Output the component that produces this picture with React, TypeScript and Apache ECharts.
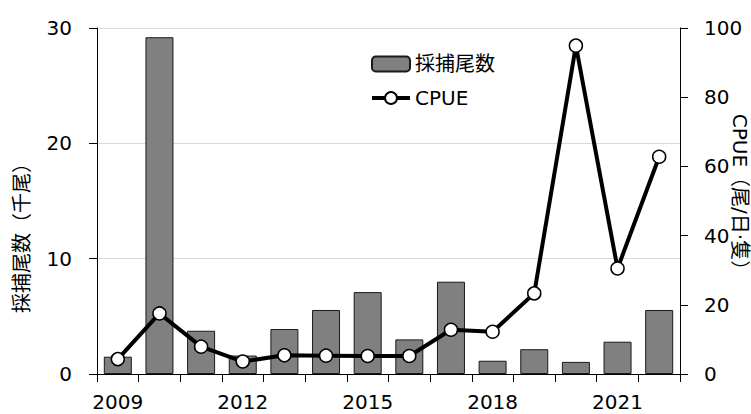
import React, { useEffect, useRef } from "react";
import * as echarts from "echarts";

const years = ["2009","2010","2011","2012","2013","2014","2015","2016","2017","2018","2019","2020","2021","2022"];
const catchCount = [1.5, 29.2, 3.75, 1.6, 3.9, 5.55, 7.1, 3.0, 8.0, 1.15, 2.15, 1.05, 2.8, 5.55];
const cpue = [4.3, 17.5, 7.9, 3.6, 5.4, 5.3, 5.2, 5.2, 12.8, 12.2, 23.3, 94.9, 30.5, 62.8];
const leftTicks = { min: 0, max: 30, interval: 10 };
const rightTicks = { min: 0, max: 100, interval: 20 };
const barName = "採捕尾数";
const lineName = "CPUE";
const leftTitle = "採捕尾数（千尾）";
const rightTitle = "CPUE（尾/日·隻）";

const FONT = '"DejaVu Sans", "Noto Sans CJK JP", sans-serif';

export default function App() {
  const ref = useRef<HTMLDivElement>(null);
  useEffect(() => {
    document.body.style.margin = "0";
    const chart = echarts.init(ref.current!, null, { renderer: "svg" });
    chart.setOption({
      animation: false,
      textStyle: { fontFamily: FONT },
      grid: { left: 97, right: 71, top: 28, bottom: 40, containLabel: false },
      legend: {
        orient: "vertical",
        left: 370,
        top: 54,
        itemWidth: 38,
        itemHeight: 15,
        itemGap: 14,
        padding: 0,
        lineStyle: { width: 4 },
        textStyle: { fontSize: 20, color: "#000", fontFamily: FONT },
        data: [barName, lineName],
      },
      xAxis: {
        type: "category",
        data: years,
        axisLine: { lineStyle: { color: "#000", width: 1 } },
        axisTick: { show: true, interval: 0, length: 8, lineStyle: { color: "#000" } },
        axisLabel: { interval: 2, fontSize: 20, color: "#000", margin: 18, fontFamily: FONT },
      },
      yAxis: [
        {
          type: "value",
          ...leftTicks,
          axisLine: { show: true, lineStyle: { color: "#000" } },
          axisTick: { show: true, length: 8, lineStyle: { color: "#000" } },
          axisLabel: { fontSize: 20, color: "#000", margin: 25, fontFamily: FONT },
          splitLine: { show: true, lineStyle: { color: "#d9d9d9", width: 1 } },
        },
        {
          type: "value",
          ...rightTicks,
          position: "right",
          axisLine: { show: true, lineStyle: { color: "#000" } },
          axisTick: { show: true, length: 8, lineStyle: { color: "#000" } },
          axisLabel: { fontSize: 20, color: "#000", margin: 24, fontFamily: FONT },
          splitLine: { show: false },
        },
      ],
      graphic: [
        {
          type: "text",
          x: 22,
          y: 233,
          rotation: Math.PI / 2,
          style: {
            text: leftTitle,
            fontSize: 20,
            fill: "#000",
            fontFamily: FONT,
            textAlign: "center",
            textVerticalAlign: "middle",
          },
        },
        {
          type: "text",
          x: 740,
          y: 197,
          rotation: -Math.PI / 2,
          style: {
            text: rightTitle,
            fontSize: 20,
            fill: "#000",
            fontFamily: FONT,
            textAlign: "center",
            textVerticalAlign: "middle",
          },
        },
      ],
      series: [
        {
          name: barName,
          type: "bar",
          data: catchCount,
          barWidth: 28,
          itemStyle: { color: "#808080", borderColor: "#1a1a1a", borderWidth: 1 },
        },
        {
          name: lineName,
          type: "line",
          yAxisIndex: 1,
          data: cpue,
          symbol: "circle",
          symbolSize: 13,
          lineStyle: { color: "#000", width: 4 },
          itemStyle: { color: "#fff", borderColor: "#000", borderWidth: 1.5 },
          z: 3,
        },
      ],
    });
    return () => chart.dispose();
  }, []);
  return <div ref={ref} style={{ width: 751, height: 414 }} />;
}
